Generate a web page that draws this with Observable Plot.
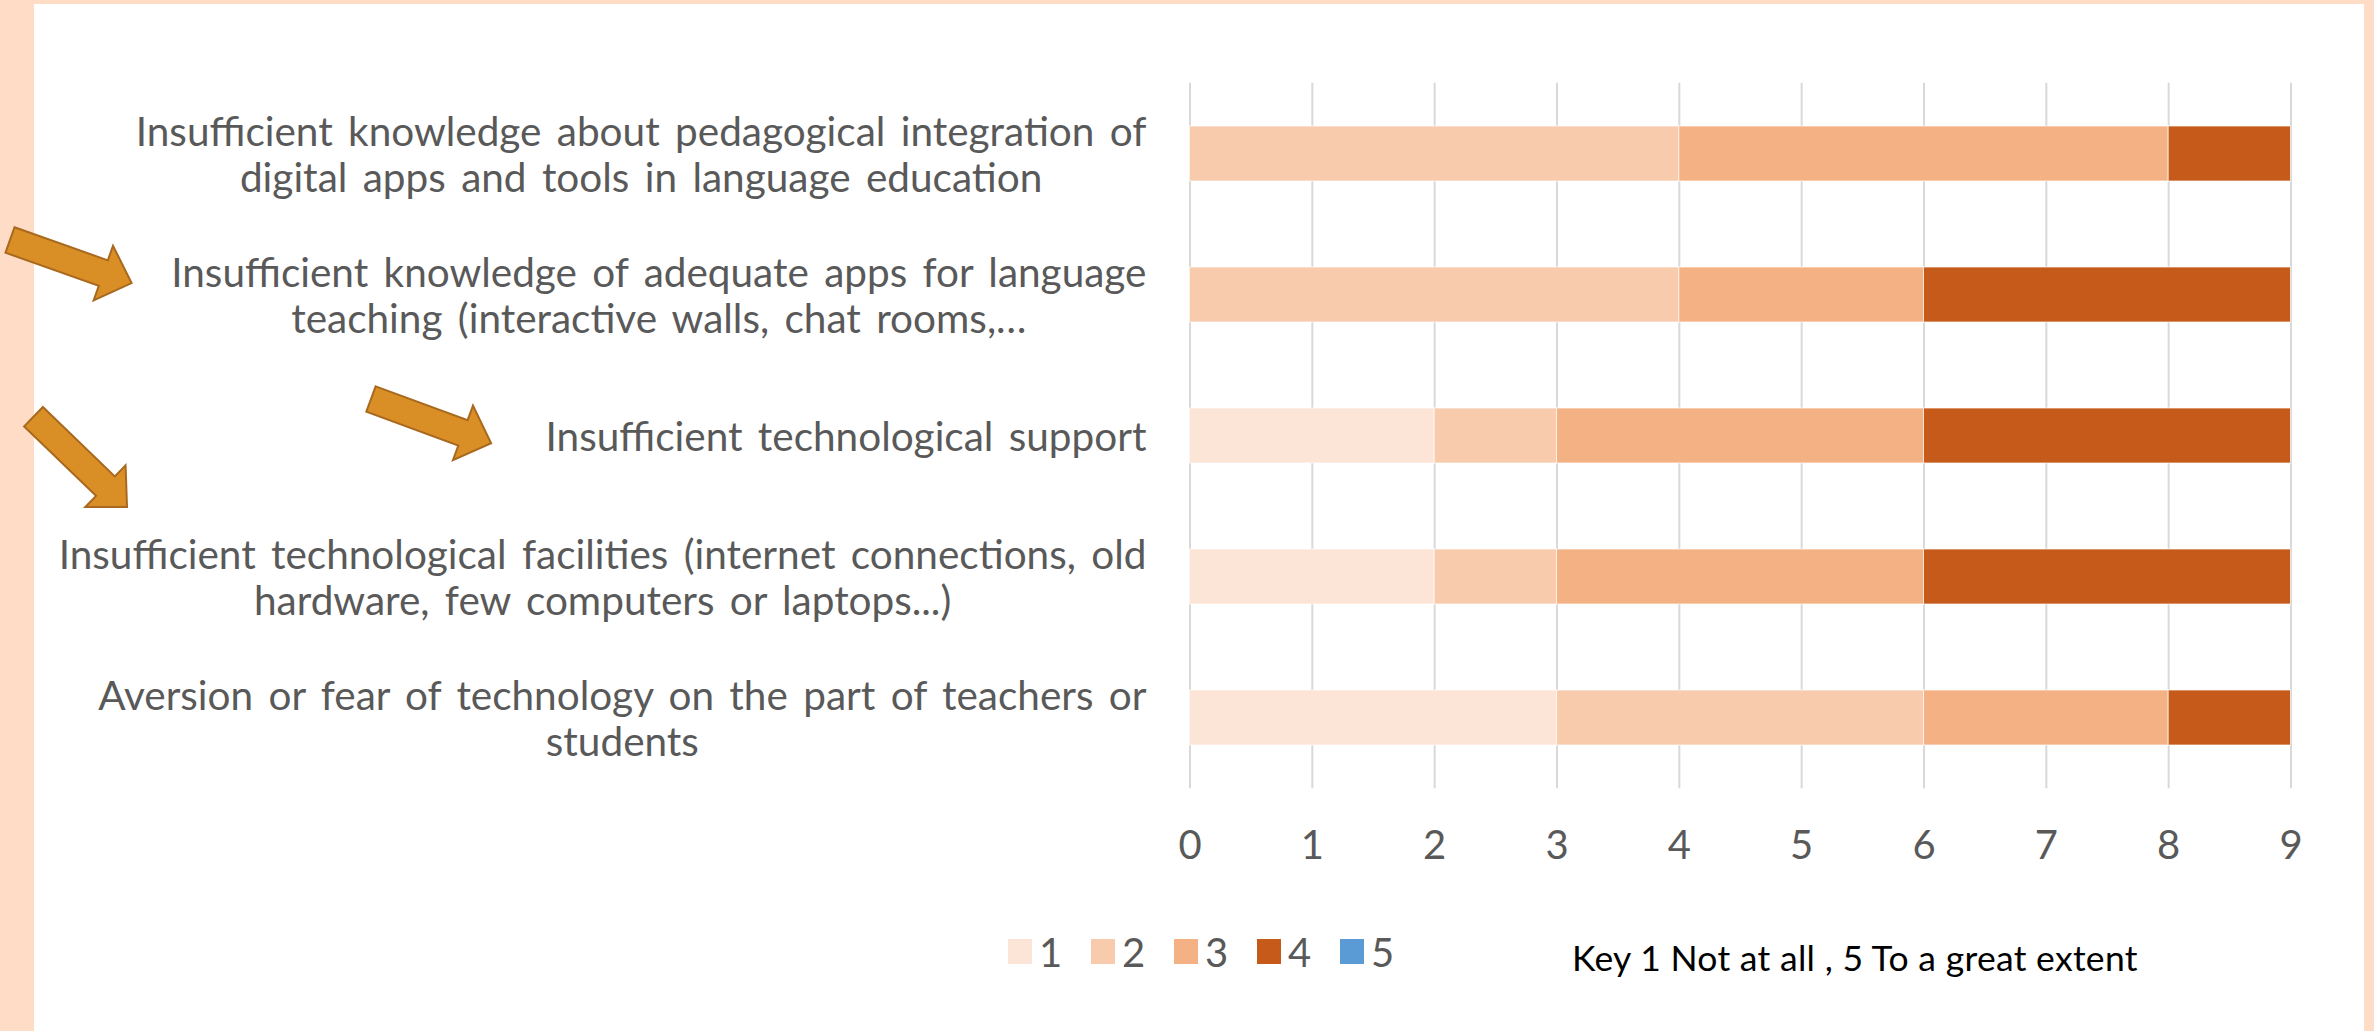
<!DOCTYPE html>
<html><head><meta charset="utf-8">
<script src="https://cdn.jsdelivr.net/npm/d3@7"></script>
<script src="https://cdn.jsdelivr.net/npm/@observablehq/plot@0.6"></script>
<style>
html,body{margin:0;padding:0;background:#fff;}
#page{position:relative;width:2374px;height:1031px;overflow:hidden;background:#fff;}
.strip{position:absolute;background:#FFDCC6;}
#chart{position:absolute;left:0;top:0;}
</style></head><body>
<div id="page">
<div class="strip" style="left:0;top:0;width:34px;height:1031px"></div>
<div class="strip" style="left:0;top:0;width:2374px;height:4px"></div>
<div class="strip" style="left:2364px;top:0;width:10px;height:1031px"></div>
<div id="chart"></div>
</div>
<script>
// ---- data ----
const categories = [
  "Insufficient knowledge about pedagogical integration of\ndigital apps and tools in language education",
  "Insufficient knowledge of adequate apps for language\nteaching (interactive walls, chat rooms,…",
  "Insufficient technological support",
  "Insufficient technological facilities (internet connections, old\nhardware, few computers or laptops...)",
  "Aversion or fear of technology on the part of teachers or\nstudents"
];
const levels = ["1", "2", "3", "4", "5"];
const level1 = [0, 0, 2, 2, 3];
const level2 = [4, 4, 1, 1, 3];
const level3 = [4, 2, 3, 3, 2];
const level4 = [1, 3, 3, 3, 1];
const level5 = [0, 0, 0, 0, 0];
const levelColors = ["#FCE4D6", "#F8CBAD", "#F4B183", "#C55A1A", "#5B9BD5"];
const xTicks = [0, 1, 2, 3, 4, 5, 6, 7, 8, 9];
const keyNote = "Key 1 Not at all , 5 To a great extent";

// ---- build tidy table ----
const series = [level1, level2, level3, level4, level5];
const data = [];
categories.forEach((c, i) => series.forEach((s, j) => data.push({category: c, level: levels[j], value: s[i]})));

const W = 2374, H = 1031;
const FONT = "Lato, 'Open Sans', sans-serif";
const GRAY = "#595959";

const chart = Plot.plot({
  width: W, height: H,
  marginLeft: 1189.5, marginRight: W - 2290.5, marginTop: 82.7, marginBottom: H - 788.3,
  style: {background: "transparent", fontFamily: FONT, color: GRAY, overflow: "visible"},
  x: {domain: [0, 9]},
  y: {domain: categories, paddingInner: 0.61, paddingOuter: 0.305},
  color: {domain: levels, range: levelColors},
  marks: [
    Plot.gridX(xTicks, {stroke: "#D9D9D9", strokeOpacity: 1, strokeWidth: 2}),
    Plot.barX(data.filter(d => d.value > 0), Plot.stackX({
      x: "value", y: "category", fill: "level",
      stroke: "white", strokeWidth: 1, strokeOpacity: 0.7
    })),
    Plot.axisX(xTicks, {tickSize: 0, tickPadding: 42, fontSize: 40, fill: GRAY, label: null, tickFormat: d3.format("d")}),
    Plot.axisY({tickSize: 0, tickPadding: 43.5, fontSize: 40.5, lineHeight: 1.14, fill: GRAY, label: null, textAnchor: "end"})
  ]
});
document.getElementById("chart").appendChild(chart);
const svg = d3.select(chart);

// wider word gaps as in the source, and centre the second line under the first
svg.selectAll('g[aria-label="y-axis tick label"] text').each(function () {
  this.setAttribute("word-spacing", "5px");
  const tspans = this.querySelectorAll("tspan");
  if (tspans.length < 2) return;
  const w1 = tspans[0].getComputedTextLength();
  this.setAttribute("text-anchor", "middle");
  tspans.forEach(t => { const x0 = +(t.getAttribute("x") || 0); t.setAttribute("x", x0 - w1 / 2); });
});

// decorative block arrows (annotations)
const arrowSpecs = [
  {x: 10, y: 240, angle: 19.5, len: 129},
  {x: 371, y: 399, angle: 20.2, len: 128},
  {x: 33.5, y: 416.7, angle: 44, len: 130}
];
const sw = 27, hw = 58, hl = 30;
const ag = svg.append("g").attr("aria-label", "arrows");
arrowSpecs.forEach(a => {
  const b = a.len - hl;
  const d = `M0,${-sw/2}L${b},${-sw/2}L${b},${-hw/2}L${a.len},0L${b},${hw/2}L${b},${sw/2}L0,${sw/2}Z`;
  ag.append("path").attr("d", d)
    .attr("transform", `translate(${a.x},${a.y}) rotate(${a.angle})`)
    .attr("fill", "#DA8F26").attr("stroke", "#A8691E").attr("stroke-width", 2).attr("stroke-linejoin", "miter");
});

// legend
const color = chart.scale("color");
const lg = svg.append("g").attr("aria-label", "legend").attr("font-family", FONT).attr("text-anchor", "start");
color.domain.forEach((lvl, i) => {
  const x0 = 1008 + i * 83;
  lg.append("rect").attr("x", x0).attr("y", 939).attr("width", 24).attr("height", 25).attr("fill", color.range[i]);
  lg.append("text").attr("x", x0 + 31).attr("y", 966.5).attr("font-size", 40).attr("fill", GRAY).text(lvl);
});
svg.append("text").attr("x", 1572).attr("y", 970.7).attr("font-size", 35.5).attr("text-anchor", "start")
  .attr("letter-spacing", "0.3px").attr("fill", "#000").attr("font-family", FONT).text(keyNote);
</script>
</body></html>
